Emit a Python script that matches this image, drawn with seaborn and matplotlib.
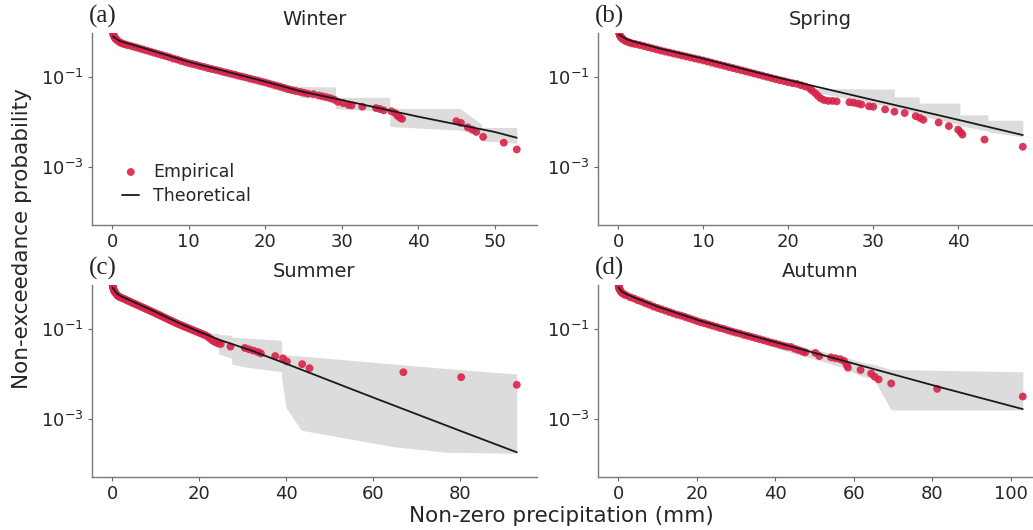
import numpy as np
import pandas as pd
import matplotlib
matplotlib.use("Agg")
import matplotlib.pyplot as plt
import seaborn as sns
from matplotlib.ticker import FixedLocator, NullLocator

sns.set_style("ticks")
plt.rcParams['font.family'] = ['DejaVu Sans']

# ---------------- data (probabilities as log10) ----------------
seasons = ["Winter", "Spring", "Summer", "Autumn"]
panel_letters = ["(a)", "(b)", "(c)", "(d)"]
x_max = [52.9, 47.6, 93.1, 103.0]
x_ticks = [[0, 10, 20, 30, 40, 50], [0, 10, 20, 30, 40], [0, 20, 40, 60, 80], [0, 20, 40, 60, 80, 100]]
y_ticks = [1e-3, 1e-1]

winter_emp_x = [0.1, 0.15, 0.2, 0.3, 0.4, 0.5, 0.7, 1.0, 1.3, 1.6, 2.0, 2.5, 3.0, 3.5, 4.0, 4.5, 5.0, 5.5, 6.0, 6.5,
                7.0, 7.5, 8.0, 8.5, 9.0, 9.5, 10.0, 10.5, 11.0, 11.5, 12.0, 12.5, 13.0, 13.5, 14.0, 14.5, 15.0, 15.5,
                16.0, 16.5, 17.0, 17.5, 18.0, 18.5, 19.0, 19.5, 20.0, 20.5, 21.0, 21.5, 22.0, 22.5, 23.0, 23.5, 24.0,
                24.6, 25.1, 25.6, 26.3, 27.0, 27.5, 28.0, 28.5, 29.0, 29.5, 30.2, 30.9, 31.3, 32.7, 34.5, 35.0, 35.5,
                36.5, 37.0, 37.3, 37.6, 37.9, 45.0, 45.6, 46.5, 47.1, 47.6, 48.5, 51.2, 52.9]
winter_emp_lp = [-0.02, -0.05, -0.08, -0.11, -0.14, -0.16, -0.19, -0.23, -0.25, -0.27, -0.29, -0.31, -0.335, -0.36,
                 -0.385, -0.41, -0.435, -0.46, -0.485, -0.51, -0.535, -0.56, -0.59, -0.61, -0.64, -0.665, -0.69, -0.71,
                 -0.73, -0.755, -0.775, -0.80, -0.82, -0.84, -0.86, -0.885, -0.905, -0.925, -0.945, -0.97, -0.99,
                 -1.01, -1.035, -1.055, -1.075, -1.10, -1.12, -1.145, -1.17, -1.19, -1.215, -1.24, -1.27, -1.29, -1.31,
                 -1.33, -1.35, -1.37, -1.38, -1.41, -1.43, -1.45, -1.47, -1.50, -1.55, -1.58, -1.62, -1.63, -1.66,
                 -1.69, -1.71, -1.74, -1.76, -1.80, -1.86, -1.90, -1.93, -1.98, -2.02, -2.12, -2.17, -2.22, -2.33,
                 -2.46, -2.61]
winter_theo_x = [0.1, 1, 2, 5, 10, 15, 20, 25, 30, 40, 50, 52.9]
winter_theo_lp = [-0.10, -0.20, -0.25, -0.40, -0.66, -0.88, -1.10, -1.33, -1.51, -1.88, -2.22, -2.35]
winter_band_x = [21, 24.5, 24.5, 29.2, 29.2, 36.3, 36.3, 45.5, 48.3, 48.3, 52.9]
winter_band_hi = [-1.12, -1.20, -1.21, -1.22, -1.45, -1.45, -1.70, -1.70, -2.05, -2.12, -2.12]
winter_band_lo = [-1.26, -1.42, -1.45, -1.47, -1.70, -1.76, -2.10, -2.18, -2.30, -2.42, -2.47]

spring_emp_x = [0.1, 0.15, 0.2, 0.3, 0.4, 0.5, 0.7, 1.0, 1.3, 1.6, 2.0, 2.5, 3.0, 3.5, 4.0, 4.5, 5.0, 5.5, 6.0, 6.5,
                7.0, 7.5, 8.0, 8.5, 9.0, 9.5, 10.0, 10.5, 11.0, 11.5, 12.0, 12.5, 13.0, 13.5, 14.0, 14.5, 15.0, 15.5,
                16.0, 16.5, 17.0, 17.5, 18.0, 18.5, 19.0, 19.5, 20.0, 20.5,
                21.0, 21.5, 22.0, 22.5, 22.8, 23.2, 23.5, 23.8, 24.2, 24.7, 25.2, 25.7, 27.2, 27.7, 28.2, 28.6, 29.5,
                30.0, 31.4, 32.5, 33.7, 35.0, 35.5, 35.9, 37.7, 38.9, 40.0, 40.3, 40.5, 43.1, 47.6]
spring_emp_lp = [-0.02, -0.05, -0.08, -0.11, -0.13, -0.15, -0.18, -0.21, -0.23, -0.25, -0.265, -0.285, -0.31, -0.335,
                 -0.36, -0.385, -0.41, -0.432, -0.454, -0.476, -0.498, -0.52, -0.542, -0.564, -0.586, -0.608, -0.63,
                 -0.654, -0.679, -0.703, -0.727, -0.751, -0.776, -0.80, -0.824, -0.849, -0.873, -0.897, -0.921,
                 -0.946, -0.97, -0.995, -1.02, -1.045, -1.07, -1.09, -1.115, -1.135,
                 -1.15, -1.18, -1.21, -1.25, -1.30, -1.36, -1.42, -1.47, -1.51, -1.53, -1.53, -1.54, -1.56, -1.57,
                 -1.59, -1.61, -1.65, -1.66, -1.72, -1.77, -1.80, -1.87, -1.91, -1.95, -2.01, -2.09, -2.17, -2.23,
                 -2.28, -2.39, -2.55]
spring_theo_x = [0.1, 1, 2, 5, 10, 17, 23, 30, 40, 47.6]
spring_theo_lp = [-0.06, -0.16, -0.22, -0.37, -0.59, -0.93, -1.20, -1.51, -1.95, -2.29]
spring_band_x = [21, 22.7, 22.7, 32.5, 32.5, 35.4, 35.4, 40.2, 40.2, 43.5, 43.5, 47.6]
spring_band_hi = [-1.10, -1.18, -1.25, -1.27, -1.44, -1.44, -1.58, -1.58, -1.84, -1.84, -1.96, -1.96]
spring_band_lo = [-1.20, -1.30, -1.32, -1.68, -1.70, -1.82, -1.85, -2.06, -2.08, -2.20, -2.22, -2.33]

summer_emp_x = [0.1, 0.15, 0.2, 0.3, 0.4, 0.5, 0.7, 1.0, 1.3, 1.6, 2.0, 2.5, 3.0, 3.5, 4.0, 4.5, 5.0, 5.5, 6.0, 6.5,
                7.0, 7.5, 8.0, 8.5, 9.0, 9.5, 10.0, 10.5, 11.0, 11.5, 12.0, 12.5, 13.0, 13.5, 14.0, 14.5, 15.0, 15.5,
                16.0, 16.5, 17.0, 17.5, 18.0, 18.5, 19.0, 19.5, 20.0, 20.5, 21.0,
                21.5, 22.0, 22.5, 23.0, 23.5, 24.0, 24.5, 25.0, 27.2, 30.5, 31.5, 32.5, 33.5, 34.2, 37.5, 39.3, 40.2,
                43.7, 45.4, 67.0, 80.3, 93.1]
summer_emp_lp = [-0.02, -0.05, -0.08, -0.11, -0.14, -0.16, -0.19, -0.23, -0.26, -0.28, -0.30, -0.32, -0.34, -0.365,
                 -0.385, -0.41, -0.43, -0.452, -0.474, -0.496, -0.518, -0.54, -0.562, -0.584, -0.606, -0.628, -0.65,
                 -0.673, -0.696, -0.719, -0.742, -0.765, -0.788, -0.811, -0.834, -0.857, -0.88, -0.90, -0.92, -0.94,
                 -0.96, -0.98, -1.00, -1.02, -1.04, -1.06, -1.08, -1.10, -1.12,
                 -1.14, -1.17, -1.21, -1.25, -1.28, -1.30, -1.32, -1.33, -1.39, -1.42, -1.45, -1.48, -1.51, -1.54,
                 -1.60, -1.65, -1.72, -1.78, -1.87, -1.96, -2.07, -2.24]
summer_theo_x = [0.1, 1, 2, 5, 10, 15, 20, 25, 31.8, 40, 60, 80, 93.1]
summer_theo_lp = [-0.08, -0.20, -0.27, -0.40, -0.62, -0.85, -1.06, -1.25, -1.47, -1.77, -2.52, -3.26, -3.74]
summer_band_x = [21, 22, 24.5, 24.5, 27.5, 27.5, 31, 39, 39, 40, 43.5, 65, 77, 93.1]
summer_band_hi = [-1.05, -1.08, -1.10, -1.12, -1.14, -1.18, -1.20, -1.25, -1.58, -1.58, -1.60, -1.78, -1.88, -2.00]
summer_band_lo = [-1.17, -1.25, -1.45, -1.55, -1.65, -1.78, -1.85, -1.95, -2.10, -2.75, -3.25, -3.62, -3.74, -3.76]

autumn_emp_x = [0.1, 0.15, 0.2, 0.3, 0.5, 0.7, 1.0, 1.5, 2.0, 3, 4, 5, 6, 7, 8, 9, 10, 11, 12, 13, 14, 15, 16, 17, 18,
                19, 20, 21, 22, 23, 24, 25, 26, 27, 28, 29, 30, 31, 32, 33, 34, 35, 36, 37, 38, 39, 40, 41, 42, 43,
                44, 45, 46, 47, 47.6, 50.2, 51.2, 54.2, 55.3, 56.5, 57.5, 58.2, 58.5, 61.7, 64.4, 65.3, 66.3, 69.5,
                81.2, 103.0]
autumn_emp_lp = [-0.02, -0.05, -0.08, -0.11, -0.14, -0.17, -0.20, -0.23, -0.25, -0.29, -0.32, -0.36, -0.39, -0.43,
                 -0.46, -0.50, -0.53, -0.56, -0.59, -0.62, -0.65, -0.68, -0.70, -0.73, -0.76, -0.79, -0.82, -0.85,
                 -0.87, -0.90, -0.925, -0.95, -0.98, -1.00, -1.03, -1.055, -1.08, -1.10, -1.13, -1.15, -1.175, -1.20,
                 -1.225, -1.25, -1.275, -1.30, -1.32, -1.345, -1.37, -1.39,
                 -1.40, -1.44, -1.47, -1.50, -1.52, -1.53, -1.60, -1.63, -1.65, -1.67, -1.71, -1.80, -1.86, -1.91,
                 -1.99, -2.06, -2.12, -2.21, -2.33, -2.50]
autumn_theo_x = [0.1, 1, 2, 5, 10, 20.3, 30, 40, 54.2, 81.4, 103.0]
autumn_theo_lp = [-0.08, -0.17, -0.22, -0.33, -0.50, -0.80, -1.05, -1.29, -1.63, -2.28, -2.78]
autumn_band_x = [38, 45, 48, 52, 57, 62, 65, 69.5, 103.0]
autumn_band_hi = [-1.20, -1.35, -1.42, -1.50, -1.60, -1.74, -1.78, -1.90, -1.95]
autumn_band_lo = [-1.35, -1.55, -1.62, -1.72, -1.85, -2.05, -2.10, -2.80, -2.80]

emp_x = [winter_emp_x, spring_emp_x, summer_emp_x, autumn_emp_x]
emp_lp = [winter_emp_lp, spring_emp_lp, summer_emp_lp, autumn_emp_lp]
theo_x = [winter_theo_x, spring_theo_x, summer_theo_x, autumn_theo_x]
theo_lp = [winter_theo_lp, spring_theo_lp, summer_theo_lp, autumn_theo_lp]
band_x = [winter_band_x, spring_band_x, summer_band_x, autumn_band_x]
band_hi = [winter_band_hi, spring_band_hi, summer_band_hi, autumn_band_hi]
band_lo = [winter_band_lo, spring_band_lo, summer_band_lo, autumn_band_lo]

# ---------------- style ----------------
RED = "#d8234a"
BAND = "#dcdcdc"
TXT = "#262626"

W, H = 1033, 530
fig = plt.figure(figsize=(W / 100, H / 100), dpi=100)
corners = [(92, 33), (598, 33), (92, 285), (598, 285)]
axw, axh = 445, 192

for i in range(4):
    left, top = corners[i]
    ax = fig.add_axes([left / W, 1 - (top + axh) / H, axw / W, axh / H])

    ax.fill_between(band_x[i], 10 ** np.array(band_lo[i]), 10 ** np.array(band_hi[i]),
                    color=BAND, lw=0, zorder=1)
    emp = pd.DataFrame({"x": emp_x[i], "p": 10 ** np.array(emp_lp[i])})
    theo = pd.DataFrame({"x": theo_x[i], "p": 10 ** np.array(theo_lp[i])})
    sns.scatterplot(data=emp, x="x", y="p", ax=ax, color=RED, s=32, edgecolor="none",
                    alpha=0.9, zorder=3, label="Empirical" if i == 0 else None)
    sns.lineplot(data=theo, x="x", y="p", ax=ax, color="#1a1a1a", lw=1.3, zorder=4,
                 label="Theoretical" if i == 0 else None)

    ax.set_yscale("log")
    ax.set_ylim(10 ** -4.29, 10 ** -0.02)
    ax.set_xlim(-0.05 * x_max[i], 1.05 * x_max[i])
    ax.yaxis.set_major_locator(FixedLocator(y_ticks))
    ax.yaxis.set_minor_locator(NullLocator())
    ax.set_xticks(x_ticks[i])
    ax.set_xlabel("")
    ax.set_ylabel("")
    ax.tick_params(labelsize=13, length=3, width=0.8, color="#666666", labelcolor=TXT, pad=3)
    for s in ["top", "right"]:
        ax.spines[s].set_visible(False)
    for s in ["left", "bottom"]:
        ax.spines[s].set_color("#7a7a7a")
        ax.spines[s].set_linewidth(1.0)

    ax.set_title(seasons[i], fontsize=14, pad=6, color=TXT)
    ax.text(-0.008, 1.025, panel_letters[i], transform=ax.transAxes, ha="left", va="bottom",
            fontsize=18, family="Liberation Serif", color=TXT)

    if i == 0:
        ax.legend(loc="lower left", bbox_to_anchor=(0.052, 0.07), frameon=False, handlelength=1.0,
                  handletextpad=0.8, fontsize=12.5, borderaxespad=0, borderpad=0.4, labelspacing=0.35)
    else:
        leg = ax.get_legend()
        if leg is not None:
            leg.remove()

fig.text(0.021, 0.549, "Non-exceedance probability", rotation=90, ha="center", va="center",
         fontsize=15.5, color=TXT)
fig.text(0.5436, 0.0264, "Non-zero precipitation (mm)", ha="center", va="center",
         fontsize=15.5, color=TXT)

fig.savefig("out.png", dpi=100)
